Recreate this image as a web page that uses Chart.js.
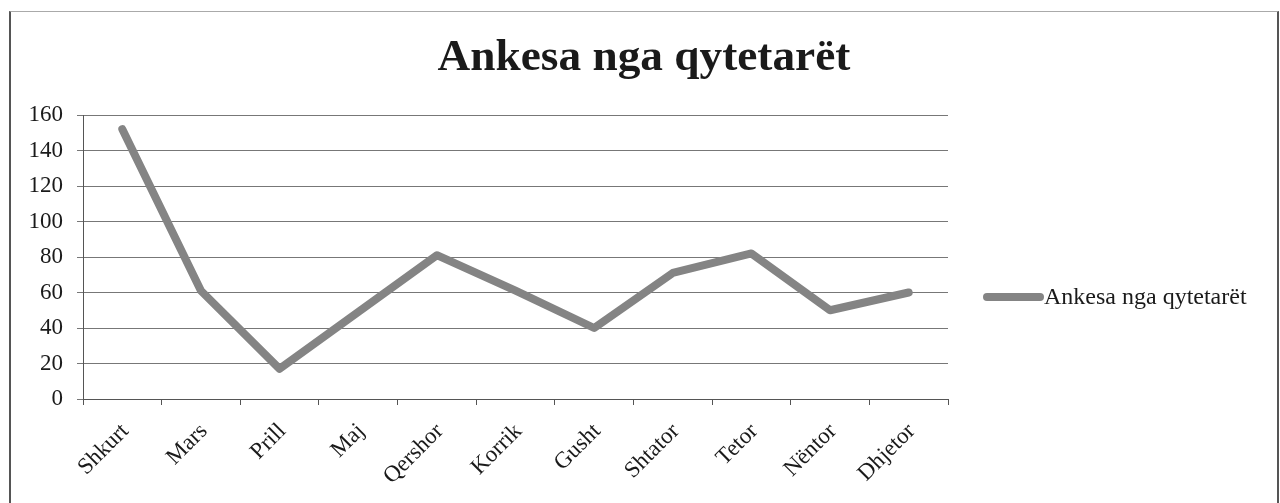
<!DOCTYPE html>
<html>
<head>
<meta charset="utf-8">
<script src="https://cdn.jsdelivr.net/npm/chart.js@4.4.1/dist/chart.umd.min.js"></script>
<style>
  html, body { margin: 0; padding: 0; background: #fff; overflow: hidden; }
  #wrap { position: relative; width: 1280px; height: 503px; }
  #frame { position: absolute; left: 9px; top: 11px; width: 1270px; height: 520px;
           border-left: 2px solid #555; border-top: 1px solid #aaa; border-right: 2px solid #555; box-sizing: border-box; }
  canvas { position: absolute; left: 0; top: 0; }
</style>
</head>
<body>
<div id="wrap">
  <div id="frame"></div>
  <canvas id="c" width="1280" height="503"></canvas>
</div>
<script>
const chartTitle = "Ankesa nga qytetarët";
const seriesName = "Ankesa nga qytetarët";
const months = ["Shkurt", "Mars", "Prill", "Maj", "Qershor", "Korrik", "Gusht", "Shtator", "Tetor", "Nëntor", "Dhjetor"];
const complaints = [152, 61, 17, 49, 81, 61, 40, 71, 82, 50, 60];
const yTicks = [0, 20, 40, 60, 80, 100, 120, 140, 160];

const SERIF = "'Liberation Serif', 'DejaVu Serif', serif";
const LINE_COLOR = "#848484";

const decor = {
  id: 'decor',
  afterDraw(chart) {
    const ctx = chart.ctx;
    ctx.save();
    // title
    ctx.fillStyle = '#1a1a1a';
    ctx.font = "bold 44px " + SERIF;
    ctx.textAlign = 'center';
    ctx.textBaseline = 'alphabetic';
    ctx.translate(644, 70);
    ctx.scale(1.03, 1);
    ctx.fillText(chartTitle, 0, 0);
    ctx.setTransform(1, 0, 0, 1, 0, 0);
    // legend
    const ds = chart.data.datasets[0];
    const ly = 297;
    ctx.strokeStyle = ds.borderColor;
    ctx.lineWidth = 8;
    ctx.lineCap = 'round';
    ctx.beginPath();
    ctx.moveTo(987, ly);
    ctx.lineTo(1040, ly);
    ctx.stroke();
    ctx.fillStyle = '#1a1a1a';
    ctx.font = "24px " + SERIF;
    ctx.textAlign = 'left';
    ctx.textBaseline = 'alphabetic';
    ctx.fillText(ds.label, 1044, 304);
    ctx.restore();
  }
};

new Chart(document.getElementById('c'), {
  type: 'line',
  data: {
    labels: months,
    datasets: [{
      label: seriesName,
      data: complaints,
      borderColor: LINE_COLOR,
      backgroundColor: LINE_COLOR,
      borderWidth: 8,
      borderCapStyle: 'round',
      borderJoinStyle: 'round',
      pointRadius: 0,
      tension: 0,
      fill: false
    }]
  },
  options: {
    responsive: false,
    animation: false,
    devicePixelRatio: 1,
    layout: { padding: { left: 8, top: 115, right: 332, bottom: 0 } },
    plugins: { legend: { display: false }, title: { display: false }, tooltip: { enabled: false } },
    scales: {
      x: {
        type: 'category',
        offset: true,
        grid: { offset: true, drawOnChartArea: false, drawTicks: true, tickLength: 6, color: '#555' },
        border: { display: true, color: '#555', width: 1 },
        ticks: {
          color: '#1a1a1a',
          font: { family: SERIF, size: 23 },
          minRotation: 45, maxRotation: 45,
          autoSkip: false,
          padding: 13,
          labelOffset: 3
        },
        afterFit(scale) { scale.height = 104; }
      },
      y: {
        min: 0, max: 160,
        afterBuildTicks(scale) { scale.ticks = yTicks.map(v => ({ value: v })); },
        grid: { color: '#777', lineWidth: 1, tickLength: 6, drawTicks: true },
        border: { display: true, color: '#555', width: 1 },
        ticks: {
          color: '#1a1a1a',
          font: { family: SERIF, size: 23 },
          padding: 14
        },
        afterFit(scale) { scale.width = 75; }
      }
    }
  },
  plugins: [decor]
});
</script>
</body>
</html>
